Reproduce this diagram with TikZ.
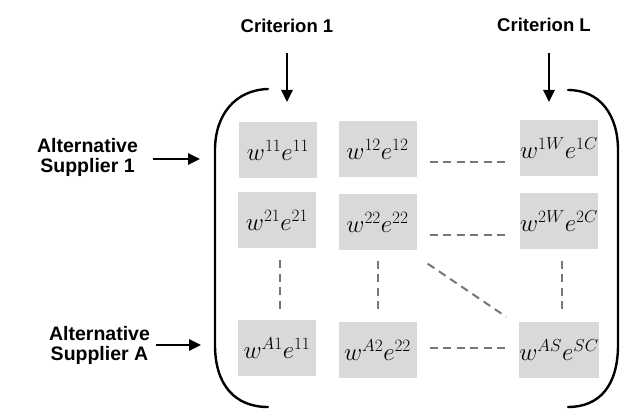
\documentclass[tikz,border=0pt]{standalone}
\usepackage{fontspec}
\setmainfont{Liberation Sans}
\usetikzlibrary{arrows.meta,calc}
\DeclareMathSizes{24}{24}{18}{13}
\definecolor{boxgray}{HTML}{D9D9D9}
\definecolor{dashgray}{HTML}{767676}
\tikzset{
  cell/.style={fill=boxgray, minimum width=78pt, minimum height=56pt, inner sep=0pt,
    font=\fontsize{24}{26}\selectfont},
  lbl/.style={font=\fontsize{19.5}{20}\selectfont\bfseries, align=center, inner sep=0pt},
  crit/.style={font=\fontsize{18.5}{20}\selectfont\bfseries, inner sep=0pt, anchor=base},
  arr/.style={line width=2.6pt, -{Triangle[length=12pt,width=11pt]}},
  dl/.style={dashgray, line width=2pt, dash pattern=on 8pt off 5.5pt},
  brk/.style={line width=2.4pt, line cap=round}
}
\begin{document}
\begin{tikzpicture}[x=1pt,y=-1pt]
\useasboundingbox (0,0) rectangle (627,411);
% bracket
\draw[brk] (268,89) .. controls (235,90) and (215,115) .. (215,150) -- (215,345)
  .. controls (215,385) and (235,407) .. (268,407);
\draw[brk] (568,90) .. controls (600,90) and (618,115) .. (618,150) -- (618,345)
  .. controls (618,385) and (600,407) .. (568,407);
% cells
\node[cell] (b11) at (278,150) {$w^{11}e^{11}$};
\node[cell] (b12) at (377.5,149) {$w^{12}e^{12}$};
\node[cell] (b1W) at (559,148) {$w^{1W}e^{1C}$};
\node[cell] (b21) at (277,220) {$w^{21}e^{21}$};
\node[cell] (b22) at (377.5,222.5) {$w^{22}e^{22}$};
\node[cell] (b2W) at (559,221.5) {$w^{2W}e^{2C}$};
\node[cell] (bA1) at (277,348.5) {$w^{A1}e^{11}$};
\node[cell] (bA2) at (377.5,350.5) {$w^{A2}e^{22}$};
\node[cell] (bAS) at (559,350) {$w^{AS}e^{SC}$};
% dashed connectors
\draw[dl, shorten <=13pt, shorten >=12pt] ([yshift=-13pt]b12.east) -- ([yshift=-13pt]b12.east -| b1W.west);
\draw[dl, shorten <=13pt, shorten >=12pt] ([yshift=-12.5pt]b22.east) -- ([yshift=-12.5pt]b22.east -| b2W.west);
\draw[dl, shorten <=13pt, shorten >=12pt] ([yshift=2pt]bA2.east) -- ([yshift=2pt]bA2.east -| bAS.west);
\draw[dl, shorten <=12pt, shorten >=9pt] ([xshift=3pt]b21.south) -- ([xshift=3pt]bA1.north);
\draw[dl, shorten <=10pt, shorten >=13pt] (b22.south) -- (b22.south |- bA2.north);
\draw[dl, shorten <=11pt, shorten >=10pt] ([xshift=3pt]b2W.south) -- ([xshift=3pt]bAS.north);
\draw[dl] ($(b22.south east)+(11,13)$) -- ($(bAS.north west)+(-13,-5)$);
% labels
\node[crit] (c1) at (287,33) {Criterion 1};
\node[crit] (cL) at (544,32) {Criterion L};
\coordinate (t1) at (287,102);
\coordinate (tL) at (549,102);
\draw[arr, shorten <=20pt] (c1.south) -- (t1);
\draw[arr, shorten <=20pt] (c1.south -| tL) -- (tL);
\node[lbl] (s1) at (87.5,157) {Alternative\\Supplier 1};
\node[lbl] (sA) at (99.5,345) {Alternative\\Supplier A};
\coordinate (a1) at (200,159);
\coordinate (aA) at (201,345);
\draw[arr, shorten <=15pt] (s1.east |- a1) -- (a1);
\draw[arr, shorten <=6pt] (sA.east |- aA) -- (aA);
\end{tikzpicture}
\end{document}
